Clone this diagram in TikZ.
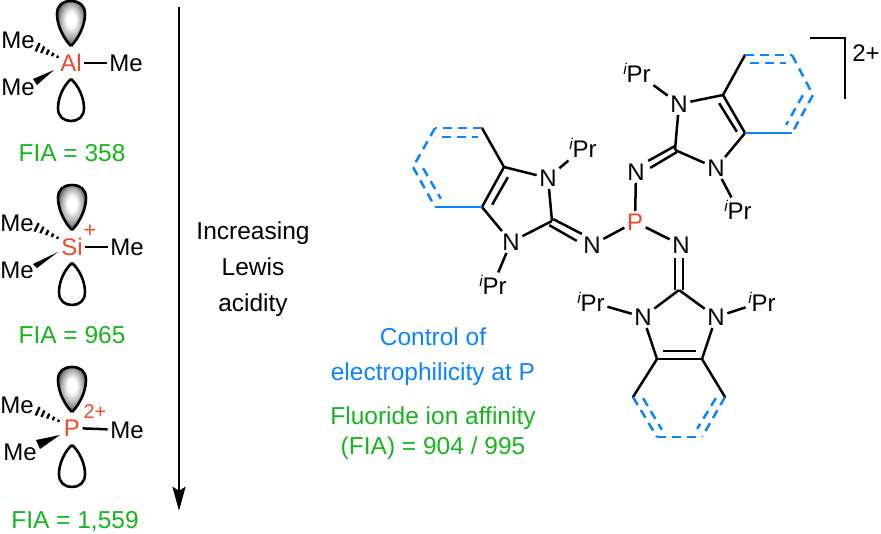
\documentclass[tikz,border=0pt]{standalone}
\usepackage{fontspec}
\setmainfont{Liberation Sans}
\usepackage{xcolor}
\usetikzlibrary{arrows.meta,calc}
\definecolor{atomred}{RGB}{240,72,44}
\definecolor{ringblue}{RGB}{10,132,255}
\definecolor{fiagreen}{RGB}{24,180,30}
\pgfdeclareradialshading{lobeshade}{\pgfpoint{0bp}{5bp}}{color(0bp)=(white); color(8bp)=(white); color(18bp)=(black!30); color(25bp)=(black!60); color(30bp)=(black!85); color(50bp)=(black)}
\newcommand{\iPr}{{\fontsize{15.5}{15}\selectfont\raisebox{8.5pt}{\itshape i}}Pr}
\tikzset{
  atom/.style = {inner sep=2.5pt, font=\fontsize{24}{26}\selectfont},
  pt/.style = {inner sep=0pt, minimum size=0pt},
  bond/.style = {line width=2.5pt},
  ringdash/.style = {line width=2.5pt, ringblue, dash pattern=on 9pt off 6pt},
  ringline/.style = {line width=2.5pt, ringblue},
  label/.style = {font=\fontsize{24.5}{28}\selectfont, text height=18pt, text depth=5pt},
  lobefull/.style = {draw=black, line width=2.6pt, line join=round, shading=lobeshade},
  lobeopen/.style = {draw=black, line width=2.6pt, line join=round}
}
\newcommand{\lobes}[3]{% centre x, tip of the upper lobe, tip of the lower lobe
  \draw [lobefull] (#1,#2) .. controls (#1-7,#2-7) and (#1-14,#2-20) .. (#1-14,#2-32)
    .. controls (#1-14,#2-41) and (#1-8,#2-45) .. (#1,#2-45)
    .. controls (#1+8,#2-45) and (#1+14,#2-41) .. (#1+14,#2-32)
    .. controls (#1+14,#2-20) and (#1+7,#2-7) .. (#1,#2);
  \draw [lobeopen] (#1,#3) .. controls (#1-7,#3+6) and (#1-13,#3+18) .. (#1-13,#3+29)
    .. controls (#1-13,#3+38) and (#1-7,#3+42) .. (#1,#3+42)
    .. controls (#1+7,#3+42) and (#1+13,#3+38) .. (#1+13,#3+29)
    .. controls (#1+13,#3+18) and (#1+7,#3+6) .. (#1,#3);
}
\newcommand{\hashbond}[2]{% from the wide end to the narrow end
  \foreach \hpos/\hw in {0.03/4.6,0.27/3.6,0.51/2.7,0.75/1.9,0.98/1.3}
    \draw [line width=2.3pt] ($(#1)!\hpos!(#2)!\hw pt!90:(#2)$) to ($(#1)!\hpos!(#2)!\hw pt!-90:(#2)$);
}
\begin{document}
\begin{tikzpicture}[x=1pt,y=-1pt]
  \useasboundingbox (0,0) rectangle (881,533);
  % aluminium
  \lobes{71}{46}{79}
  \node [atom, atomred] (al) at (71,63) {Al};
  \node [atom] (me1) at (18,40) {Me};
  \node [atom] (me2) at (126,63) {Me};
  \node [atom] (me3) at (18,87) {Me};
  \node [pt] (h1) at (58,57) {};
  \node [pt] (h2) at (37,47) {};
  \node [pt] (w1) at (54,70) {};
  \node [pt] (w2) at (33,79) {};
  \node [pt] (w3) at (37,85) {};
  \draw [bond] (al) to (me2);
  \hashbond{h2}{h1}
  \fill (w1.center) -- (w2.center) -- (w3.center) -- cycle;
  \node [label, fiagreen] (fia1) at (72,155) {FIA = 358};
  % silicon
  \lobes{72}{230}{263}
  \node [atom, atomred] (si) at (72,247) {Si};
  \node [atom, atomred, font=\fontsize{22}{24}\selectfont] (siplus) at (90,231) {+};
  \node [atom] (me4) at (17,223) {Me};
  \node [atom] (me5) at (127,247) {Me};
  \node [atom] (me6) at (17,270) {Me};
  \node [pt] (h3) at (58,238) {};
  \node [pt] (h4) at (36,227) {};
  \node [pt] (w4) at (58,252) {};
  \node [pt] (w5) at (33,264) {};
  \node [pt] (w6) at (37,268) {};
  \draw [bond] (si) to (me5);
  \hashbond{h4}{h3}
  \fill (w4.center) -- (w5.center) -- (w6.center) -- cycle;
  \node [label, fiagreen] (fia2) at (72,337) {FIA = 965};
  % phosphorus
  \lobes{72}{412}{445}
  \node [atom, atomred] (p1) at (72,428) {P};
  \node [atom, atomred, font=\fontsize{20}{22}\selectfont] (p1plus) at (95,412) {2+};
  \node [atom] (me7) at (17,405) {Me};
  \node [atom] (me8) at (127,430) {Me};
  \node [atom] (me9) at (20,452) {Me};
  \node [pt] (h5) at (59,421) {};
  \node [pt] (h6) at (37,411) {};
  \node [pt] (w7) at (60,435) {};
  \node [pt] (w8) at (36,440) {};
  \node [pt] (w9) at (40,449) {};
  \draw [bond] (p1) to (me8);
  \hashbond{h6}{h5}
  \fill (w7.center) -- (w8.center) -- (w9.center) -- cycle;
  \node [label, fiagreen] (fia3) at (75,522) {FIA = 1,559};
  % arrow and its text
  \node [pt] (top) at (179,7) {};
  \node [pt] (bottom) at (179,511) {};
  \draw [bond, -{Stealth[length=24pt,width=13pt,inset=4pt]}] (top) to (bottom);
  \node [label] (t1) at (253,233) {Increasing};
  \node [label] (t2) at (253,269) {Lewis};
  \node [label] (t3) at (253,305) {acidity};
  \node [label, ringblue] (t4) at (433,339) {Control of};
  \node [label, ringblue] (t5) at (433,374) {electrophilicity at P};
  \node [label, fiagreen] (t6) at (433,418) {Fluoride ion affinity};
  \node [label, fiagreen] (t7) at (433,448) {(FIA) = 904 / 995};
  % centre
  \node [atom, atomred] (p) at (635,222) {P};
  \node [atom] (na) at (592,245) {N};
  \node [atom] (nb) at (636,172) {N};
  \node [atom] (nc) at (681,245) {N};
  \draw [bond] (p) to (na);
  \draw [bond] (p) to (nb);
  \draw [bond] (p) to (nc);
  % left ring
  \node [atom] (a1) at (548,178) {N};
  \node [atom] (a2) at (511,242) {N};
  \node [pt] (a3) at (552,221) {};
  \node [pt] (a4) at (504,167) {};
  \node [pt] (a5) at (482,207) {};
  \node [pt] (a6) at (482,128) {};
  \node [pt] (a7) at (435,128) {};
  \node [pt] (a8) at (413,167) {};
  \node [pt] (a9) at (435,207) {};
  \node [atom] (a10) at (583,148) {\iPr};
  \node [atom] (a11) at (493,285) {\iPr};
  \node [pt] (a12) at (508,177) {};
  \node [pt] (a13) at (492,205) {};
  \node [pt] (a14) at (442,137) {};
  \node [pt] (a15) at (478,137) {};
  \node [pt] (a16) at (423,168) {};
  \node [pt] (a17) at (441,199) {};
  \node [pt] (a18) at (553,219) {};
  \node [pt] (a19) at (582,234) {};
  \node [pt] (a20) at (549,225) {};
  \node [pt] (a21) at (577,241) {};
  \draw [bond] (a1) to (a3);
  \draw [bond] (a2) to (a3);
  \draw [bond] (a1) to (a4);
  \draw [bond] (a2) to (a5);
  \draw [bond, line cap=round] (a4) to (a5);
  \draw [bond] (a12) to (a13);
  \draw [bond, line cap=round] (a4) to (a6);
  \draw [bond] (a1) to (a10);
  \draw [bond] (a2) to (a11);
  \draw [bond] (a18) to (a19);
  \draw [bond] (a20) to (a21);
  \draw [ringline] (a5) to (a9);
  \draw [ringdash] (a6) to (a7);
  \draw [ringdash] (a7) to (a8);
  \draw [ringdash] (a8) to (a9);
  \draw [ringdash] (a14) to (a15);
  \draw [ringdash] (a16) to (a17);
  % right ring
  \node [atom] (b1) at (679,104) {N};
  \node [atom] (b2) at (716,168) {N};
  \node [pt] (b3) at (675,150) {};
  \node [pt] (b4) at (723,95) {};
  \node [pt] (b5) at (745,133) {};
  \node [pt] (b6) at (745,55) {};
  \node [pt] (b7) at (792,55) {};
  \node [pt] (b8) at (813,95) {};
  \node [pt] (b9) at (792,133) {};
  \node [atom] (b10) at (637,73) {\iPr};
  \node [atom] (b11) at (738,210) {\iPr};
  \node [pt] (b12) at (719,103) {};
  \node [pt] (b13) at (737,132) {};
  \node [pt] (b14) at (750,63) {};
  \node [pt] (b15) at (786,63) {};
  \node [pt] (b16) at (803,95) {};
  \node [pt] (b17) at (786,125) {};
  \node [pt] (b18) at (648,161) {};
  \node [pt] (b19) at (675,146) {};
  \node [pt] (b20) at (650,168) {};
  \node [pt] (b21) at (677,152) {};
  \draw [bond] (b1) to (b3);
  \draw [bond] (b2) to (b3);
  \draw [bond] (b1) to (b4);
  \draw [bond] (b2) to (b5);
  \draw [bond, line cap=round] (b4) to (b5);
  \draw [bond] (b12) to (b13);
  \draw [bond, line cap=round] (b4) to (b6);
  \draw [bond] (b1) to (b10);
  \draw [bond] (b2) to (b11);
  \draw [bond] (b18) to (b19);
  \draw [bond] (b20) to (b21);
  \draw [ringline] (b5) to (b9);
  \draw [ringdash] (b6) to (b7);
  \draw [ringdash] (b7) to (b8);
  \draw [ringdash] (b8) to (b9);
  \draw [ringdash] (b14) to (b15);
  \draw [ringdash] (b16) to (b17);
  % lower ring
  \node [atom] (c1) at (643,317) {N};
  \node [atom] (c2) at (716,317) {N};
  \node [pt] (c3) at (679,290) {};
  \node [pt] (c4) at (657,359) {};
  \node [pt] (c5) at (702,359) {};
  \node [pt] (c6) at (633,397) {};
  \node [pt] (c7) at (725,397) {};
  \node [pt] (c8) at (657,437) {};
  \node [pt] (c9) at (702,437) {};
  \node [atom] (c10) at (591,302) {\iPr};
  \node [atom] (c11) at (762,302) {\iPr};
  \node [pt] (c12) at (663,351) {};
  \node [pt] (c13) at (696,351) {};
  \node [pt] (c14) at (643,398) {};
  \node [pt] (c15) at (662,430) {};
  \node [pt] (c16) at (716,398) {};
  \node [pt] (c17) at (697,429) {};
  \node [pt] (c18) at (675,258) {};
  \node [pt] (c19) at (675,290) {};
  \node [pt] (c20) at (683,258) {};
  \node [pt] (c21) at (683,290) {};
  \draw [bond] (c1) to (c3);
  \draw [bond] (c2) to (c3);
  \draw [bond] (c1) to (c4);
  \draw [bond] (c2) to (c5);
  \draw [bond, line cap=round] (c4) to (c5);
  \draw [bond] (c12) to (c13);
  \draw [bond, line cap=round] (c4) to (c6);
  \draw [bond, line cap=round] (c5) to (c7);
  \draw [bond] (c1) to (c10);
  \draw [bond] (c2) to (c11);
  \draw [bond] (c18) to (c19);
  \draw [bond] (c20) to (c21);
  \draw [ringdash] (c6) to (c8);
  \draw [ringdash] (c8) to (c9);
  \draw [ringdash] (c7) to (c9);
  \draw [ringdash] (c14) to (c15);
  \draw [ringdash] (c16) to (c17);
  % bracket
  \node [pt] (br1) at (810,38) {};
  \node [pt] (br2) at (845,38) {};
  \node [pt] (br3) at (845,99) {};
  \draw [bond] (br1.center) to (br2.center) to (br3.center);
  \node [atom] (charge) at (866,53) {2+};
\end{tikzpicture}
\end{document}
